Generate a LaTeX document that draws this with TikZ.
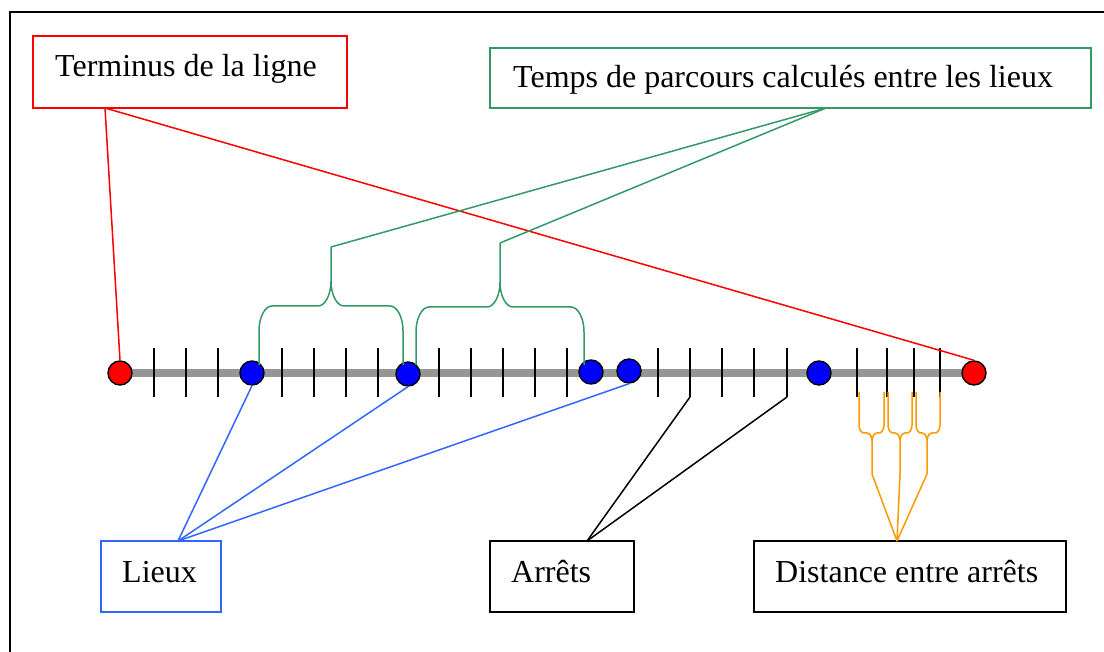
\documentclass[tikz,border=0pt]{standalone}
\usepackage{fontspec}
\setmainfont{Liberation Serif}
\definecolor{termred}{RGB}{255,0,0}
\definecolor{timegreen}{RGB}{51,153,102}
\definecolor{placeblue}{RGB}{51,102,255}
\definecolor{distorange}{RGB}{255,153,0}
\definecolor{railgray}{RGB}{150,150,150}
\definecolor{dotblue}{RGB}{0,0,255}
% #1 style, #2 xL, #3 xM, #4 xR, #5 yEnd, #6 yMid, #7 yTip, #8 h, #9 v
\newcommand\drawbrace[9]{%
  \pgfmathsetmacro\myBs{sign(#5-#6)}%
  \draw[#1] (#2,#5) -- (#2,{#6+#9*\myBs})
    .. controls (#2,{#6+0.45*#9*\myBs}) and ({#2+0.45*#8},#6) .. ({#2+#8},#6)
    -- ({#3-#8},#6)
    .. controls ({#3-0.45*#8},#6) and (#3,{#6-0.45*#9*\myBs}) .. (#3,{#6-#9*\myBs})
    -- (#3,#7) -- (#3,{#6-#9*\myBs})
    .. controls (#3,{#6-0.45*#9*\myBs}) and ({#3+0.45*#8},#6) .. ({#3+#8},#6)
    -- ({#4-#8},#6)
    .. controls ({#4-0.45*#8},#6) and (#4,{#6+0.45*#9*\myBs}) .. (#4,{#6+#9*\myBs})
    -- (#4,#5);%
}
\begin{document}
\begin{tikzpicture}[x=1pt,y=-1pt,
  every node/.style={font=\fontsize{32}{38}\selectfont},
  boxnode/.style={draw, rectangle, line width=1.5pt, inner sep=0pt},
  lbl/.style={anchor=base west, inner sep=0pt},
  stopdot/.style={circle, draw=black, line width=1.4pt, minimum size=24pt, inner sep=0pt},
  tickline/.style={line width=1.8pt, black},
  conn/.style={line width=1.5pt}]
\useasboundingbox (0,0) rectangle (1104,652);
% outer frame
\draw[line width=2pt] (10,652) -- (10,12.5) -- (1104,12.5);
% rail
\draw[line width=8pt, railgray] (120,373) -- (974,373);
\foreach \x [count=\i] in {154,186,218,282,314,346,378,439,471,503,535,567,658,690,722,754,787,857,887,914,940}
  \draw[tickline] (\x,348) -- (\x,397) coordinate (tk\i);
% stops
\node[stopdot, fill=termred] (r1) at (120,373) {};
\node[stopdot, fill=dotblue] (b1) at (252,373) {};
\node[stopdot, fill=dotblue] (b2) at (408,374) {};
\node[stopdot, fill=dotblue] (b3) at (591,372) {};
\node[stopdot, fill=dotblue] (b4) at (629,371) {};
\node[stopdot, fill=dotblue] (b5) at (819,373) {};
\node[stopdot, fill=termred] (r2) at (974,373) {};
% boxes
\node[boxnode, draw=termred, minimum width=314pt, minimum height=72pt] (term) at (190,72) {};
\node[lbl] (termtxt) at (55,77) {Terminus de la ligne};
\node[boxnode, draw=timegreen, minimum width=601pt, minimum height=60pt] (temps) at (790.5,78) {};
\node[lbl] (tempstxt) at (513,88) {Temps de parcours calculés entre les lieux};
\node[boxnode, draw=placeblue, minimum width=120pt, minimum height=71pt] (lieux) at (161,576.5) {};
\node[lbl] (lieuxtxt) at (122,582) {Lieux};
\node[boxnode, draw=black, minimum width=144pt, minimum height=71pt] (arrets) at (562,576.5) {};
\node[lbl] (arretstxt) at (511,582) {Arrêts};
\node[boxnode, draw=black, minimum width=312pt, minimum height=71pt] (dist) at (910,576.5) {};
\node[lbl] (disttxt) at (775,582) {Distance entre arrêts};
% connector feet
\coordinate (termfoot) at (105,108);
\coordinate (tempsfoot) at (826,108);
\coordinate (lieuxtop) at (178,541);
\coordinate (arretstop) at (587,541);
\coordinate (disttop) at (897,541);
% red
\draw[conn, termred] (termfoot) -- (r1.north);
\draw[conn, termred] (termfoot) -- (r2.north);
% green braces
\drawbrace{conn, timegreen}{259}{331}{403}{365}{306}{247}{13}{25}
\drawbrace{conn, timegreen}{416}{500}{584}{365}{307}{243}{13}{25}
\coordinate (ga) at (331,247);
\coordinate (gb) at (500,243);
\draw[conn, timegreen] (ga) -- (tempsfoot);
\draw[conn, timegreen] (gb) -- (tempsfoot);
% blue
\draw[conn, placeblue] (lieuxtop) -- (b1.south);
\draw[conn, placeblue] (lieuxtop) -- (b2.south);
\draw[conn, placeblue] (lieuxtop) -- (b4.south);
% black
\draw[conn, black] (tk14) -- (arretstop);
\draw[conn, black] (tk17) -- (arretstop);
% orange braces
\drawbrace{conn, distorange}{859}{872}{884}{392}{433}{474}{5}{8}
\drawbrace{conn, distorange}{888}{900}{912}{392}{433}{474}{5}{8}
\drawbrace{conn, distorange}{916}{927}{940}{392}{433}{474}{5}{8}
\coordinate (oa) at (872,474);
\coordinate (ob) at (900,474);
\coordinate (oc) at (927,474);
\draw[conn, distorange] (oa) -- (disttop);
\draw[conn, distorange] (ob) -- (disttop);
\draw[conn, distorange] (oc) -- (disttop);
\end{tikzpicture}
\end{document}
